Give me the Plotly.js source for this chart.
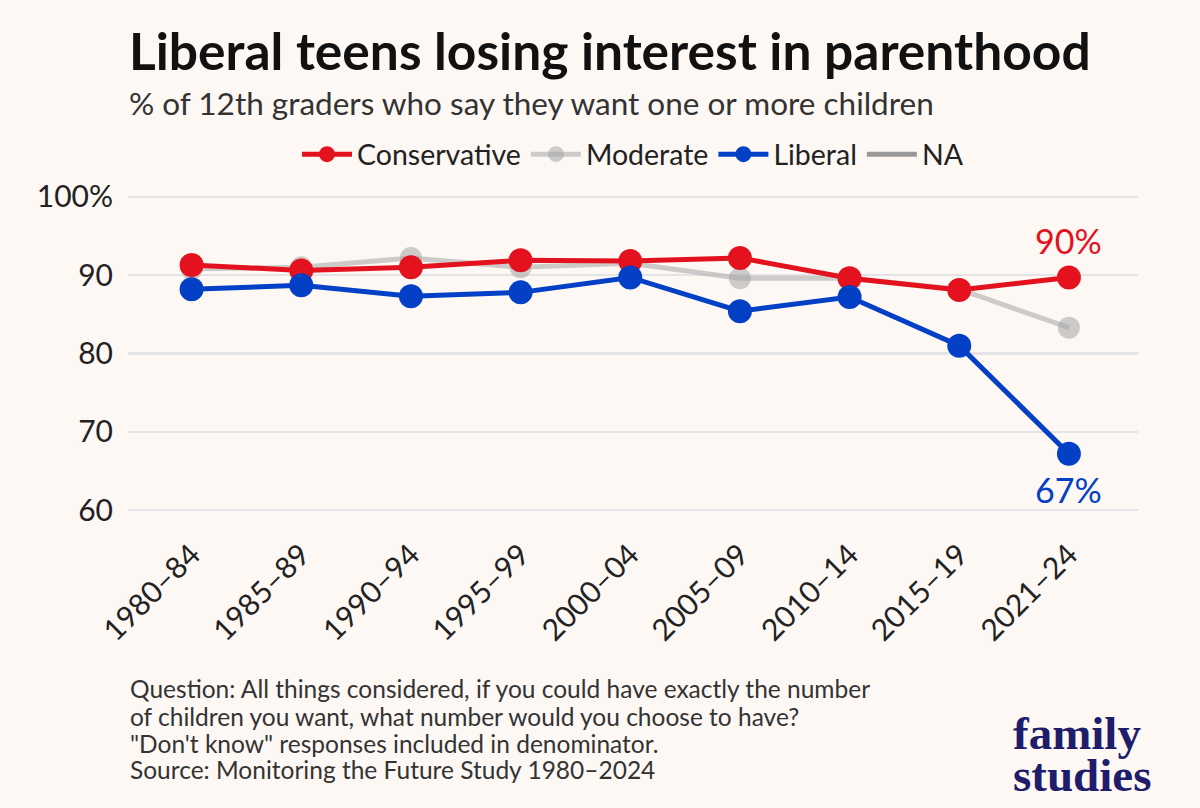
<!DOCTYPE html>
<html>
<head>
<meta charset="utf-8">
<script src="https://cdn.plot.ly/plotly-3.0.1.min.js"></script>
<style>
html,body{margin:0;padding:0;background:#fdf8f3;}
#chart{width:1200px;height:808px;}
</style>
</head>
<body>
<div id="chart"></div>
<script>
const periods = ["1980–84","1985–89","1990–94","1995–99","2000–04","2005–09","2010–14","2015–19","2021–24"];
const conservative = [91.3, 90.6, 91.0, 91.9, 91.8, 92.2, 89.6, 88.1, 89.7];
const moderate     = [90.8, 91.0, 92.2, 91.0, 91.5, 89.6, 89.6, 88.2, 83.3];
const liberal      = [88.2, 88.7, 87.3, 87.8, 89.7, 85.4, 87.2, 81.0, 67.2];
const yTickVals = [60, 70, 80, 90, 100];
const yTickText = ["60", "70", "80", "90", "100%"];
const footnote = [
  "Question: All things considered, if you could have exactly the number",
  "of children you want, what number would you choose to have?",
  "\"Don't know\" responses included in denominator.",
  "Source: Monitoring the Future Study 1980–2024"
];
const logoLines = ["family", "studies"];

const RED = "#e3121e", BLUE = "#0340c6", GREY = "rgba(165,165,165,0.55)";
const FONT = "Lato, 'Open Sans', sans-serif";

const traces = [
  {x: periods, y: moderate, name: "Moderate", type: "scatter", mode: "lines+markers",
   line: {color: GREY, width: 5}, marker: {color: GREY, size: 22}, legendrank: 2},
  {x: periods, y: conservative, name: "Conservative", type: "scatter", mode: "lines+markers",
   line: {color: RED, width: 5}, marker: {color: RED, size: 24}, legendrank: 1},
  {x: periods, y: liberal, name: "Liberal", type: "scatter", mode: "lines+markers",
   line: {color: BLUE, width: 5}, marker: {color: BLUE, size: 24}, legendrank: 3},
  {x: [null], y: [null], name: "NA", type: "scatter", mode: "lines",
   line: {color: "#999999", width: 5}, legendrank: 4}
];

const last = periods.length - 1;
const annotations = [
  {x: periods[last], y: conservative[last], text: Math.round(conservative[last]) + "%",
   showarrow: false, yshift: 37, font: {family: FONT, size: 34, color: RED}},
  {x: periods[last], y: liberal[last], text: Math.round(liberal[last]) + "%",
   showarrow: false, yshift: -36, font: {family: FONT, size: 34, color: BLUE}},
  {xref: "paper", yref: "paper", x: -0.001, y: 1.40, xanchor: "left", yanchor: "middle",
   text: "<b>Liberal teens losing interest in parenthood</b>", showarrow: false,
   font: {family: FONT, size: 51.5, color: "#111111"}},
  {xref: "paper", yref: "paper", x: -0.001, y: 1.243, xanchor: "left", yanchor: "middle",
   text: "% of 12th graders who say they want one or more children", showarrow: false,
   font: {family: FONT, size: 31.5, color: "#333333"}}
];
const footY = [-0.4926, -0.5757, -0.6558, -0.7359];
footnote.forEach((t, i) => annotations.push({
  xref: "paper", yref: "paper", x: 0.0, y: footY[i], xanchor: "left", yanchor: "middle",
  text: t, showarrow: false, font: {family: FONT, size: 24.5, color: "#333333"}}));
const logoY = [-0.626, -0.751];
logoLines.forEach((t, i) => annotations.push({
  xref: "paper", yref: "paper", x: 0.874, y: logoY[i], xanchor: "left", yanchor: "middle",
  text: "<b>" + t + "</b>", showarrow: false,
  font: {family: "'Liberation Serif', 'DejaVu Serif', serif", size: 47, color: "#1f1d6b"}}));

const layout = {
  width: 1200, height: 808,
  paper_bgcolor: "#fdf8f3", plot_bgcolor: "#fdf8f3",
  margin: {l: 128, r: 62, t: 185, b: 286},
  font: {family: FONT, color: "#222222"},
  showlegend: true,
  legend: {orientation: "h", x: 0.5, xanchor: "center", y: 1.09, yanchor: "middle",
           font: {family: FONT, size: 28.5, color: "#222222"}, bgcolor: "rgba(0,0,0,0)",
           traceorder: "normal", itemwidth: 50},
  xaxis: {type: "category", range: [-0.58, 8.63], showgrid: false, zeroline: false,
          showline: false, ticks: "", tickangle: -45, ticklabelstandoff: 8,
          tickfont: {family: FONT, size: 30, color: "#222222"}},
  yaxis: {range: [58.5, 101.5], tickvals: yTickVals, ticktext: yTickText,
          showgrid: true, gridcolor: "#e4e3e8", gridwidth: 2.5, zeroline: false,
          showline: false, ticks: "", ticklabelstandoff: 14,
          tickfont: {family: FONT, size: 30, color: "#222222"}},
  annotations: annotations
};

Plotly.newPlot("chart", traces, layout, {displayModeBar: false, staticPlot: true});
</script>
</body>
</html>
